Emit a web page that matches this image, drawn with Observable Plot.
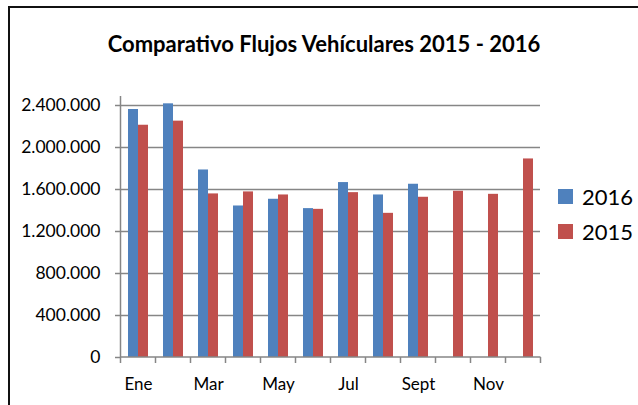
<!DOCTYPE html>
<html>
<head>
<meta charset="utf-8">
<script src="https://cdn.jsdelivr.net/npm/d3@7"></script>
<script src="https://cdn.jsdelivr.net/npm/@observablehq/plot@0.6"></script>
<style>
  html, body { margin: 0; padding: 0; background: #fff; }
  #wrap { position: relative; width: 638px; height: 405px; overflow: hidden; font-family: Lato, "Open Sans", sans-serif; }
  #border { position: absolute; left: 8px; top: 6px; width: 700px; height: 500px; border-top: 2px solid #111; border-left: 2px solid #111; }
  #title { position: absolute; left: 0; width: 648px; top: 31px; text-align: center; font-weight: bold; font-size: 22px; line-height: 26px; color: #000; }
  #chart { position: absolute; left: 0; top: 0; }
  #legend { position: absolute; left: 558px; top: 179px; font-size: 22px; color: #000; }
  .li { display: flex; align-items: center; height: 35px; }
  .sw { width: 15px; height: 15px; margin-right: 9px; }
</style>
</head>
<body>
<div id="wrap">
  <div id="border"></div>
  <div id="chart"></div>
  <div id="title"></div>
  <div id="legend"></div>
</div>
<script>
const titleText = "Comparativo Flujos Vehículares 2015 - 2016";
const months = ["Ene","Feb","Mar","Abr","May","Jun","Jul","Ago","Sept","Oct","Nov","Dic"];
const shownLabels = ["Ene","Mar","May","Jul","Sept","Nov"];
const series = ["2016","2015"];
const colors = ["#4F81BD","#C0504D"];
const v2016 = [2362000, 2416000, 1786000, 1443000, 1507000, 1418000, 1666000, 1548000, 1650000];
const v2015 = [2212000, 2251000, 1558000, 1577000, 1548000, 1411000, 1570000, 1373000, 1526000, 1583000, 1554000, 1891000];
const yTicks = [0, 400000, 800000, 1200000, 1600000, 2000000, 2400000];

const data = [];
v2016.forEach((v, i) => data.push({month: months[i], year: "2016", value: v}));
v2015.forEach((v, i) => data.push({month: months[i], year: "2015", value: v}));

const loc = d3.formatLocale({decimal: ",", thousands: ".", grouping: [3], currency: ["", ""]});
const fmt = loc.format(",");
const grid = "#868686";

document.getElementById("title").textContent = titleText;

const edges = (index, scales, values, dims) => {
  const x = scales.x, y = scales.y;
  const step = x.step ? x.step() : x.bandwidth() / (1 - 0.43);
  const bw = x.bandwidth();
  const g = d3.create("svg:g").attr("stroke", grid).attr("stroke-width", 1.5).attr("fill", "none");
  const y0 = y(0);
  const yTop = y(yTicks[yTicks.length - 1]) - 9;
  const xs = months.map(m => x(m) - (step - bw) / 2);
  xs.push(x(months[months.length - 1]) + bw + (step - bw) / 2);
  xs.forEach(xx => g.append("line").attr("x1", xx).attr("x2", xx).attr("y1", y0).attr("y2", y0 + 6));
  g.append("line").attr("x1", xs[0]).attr("x2", xs[0]).attr("y1", yTop).attr("y2", y0);
  g.append("line").attr("x1", xs[0]).attr("x2", xs[xs.length - 1]).attr("y1", y0).attr("y2", y0);
  return g.node();
};

const plot = Plot.plot({
  width: 638,
  height: 405,
  marginLeft: 120,
  marginRight: 98,
  marginTop: 105,
  marginBottom: 48,
  style: {fontFamily: "Lato, 'Open Sans', sans-serif", fontSize: "17px", color: "#000", background: "transparent"},
  x: {domain: months, paddingInner: 0.43, paddingOuter: 0.215, axis: null, label: null},
  y: {domain: [0, 2400000], axis: null, label: null},
  marks: [
    Plot.ruleY(yTicks.filter(d => d > 0), {stroke: grid, strokeWidth: 1.5, strokeOpacity: 1}),
    Plot.barY(data.filter(d => d.year === "2016"), {x: "month", y: "value", fill: colors[0], insetRight: 10}),
    Plot.barY(data.filter(d => d.year === "2015"), {x: "month", y: "value", fill: colors[1], insetLeft: 10}),
    Plot.axisY({ticks: yTicks, tickFormat: fmt, tickSize: 5, tickPadding: 15, stroke: grid, strokeWidth: 1.5, fill: "#000", fontSize: 17.5, label: null}),
    Plot.axisX({tickFormat: d => shownLabels.includes(d) ? d : "", tickSize: 0, tickPadding: 20, fill: "#000", fontSize: 17, label: null}),
    edges
  ]
});
document.getElementById("chart").appendChild(plot);

const lg = document.getElementById("legend");
series.forEach((s, i) => {
  const row = document.createElement("div");
  row.className = "li";
  const sw = document.createElement("div");
  sw.className = "sw";
  sw.style.background = colors[i];
  const t = document.createElement("span");
  t.textContent = s;
  row.appendChild(sw); row.appendChild(t);
  lg.appendChild(row);
});
</script>
</body>
</html>
